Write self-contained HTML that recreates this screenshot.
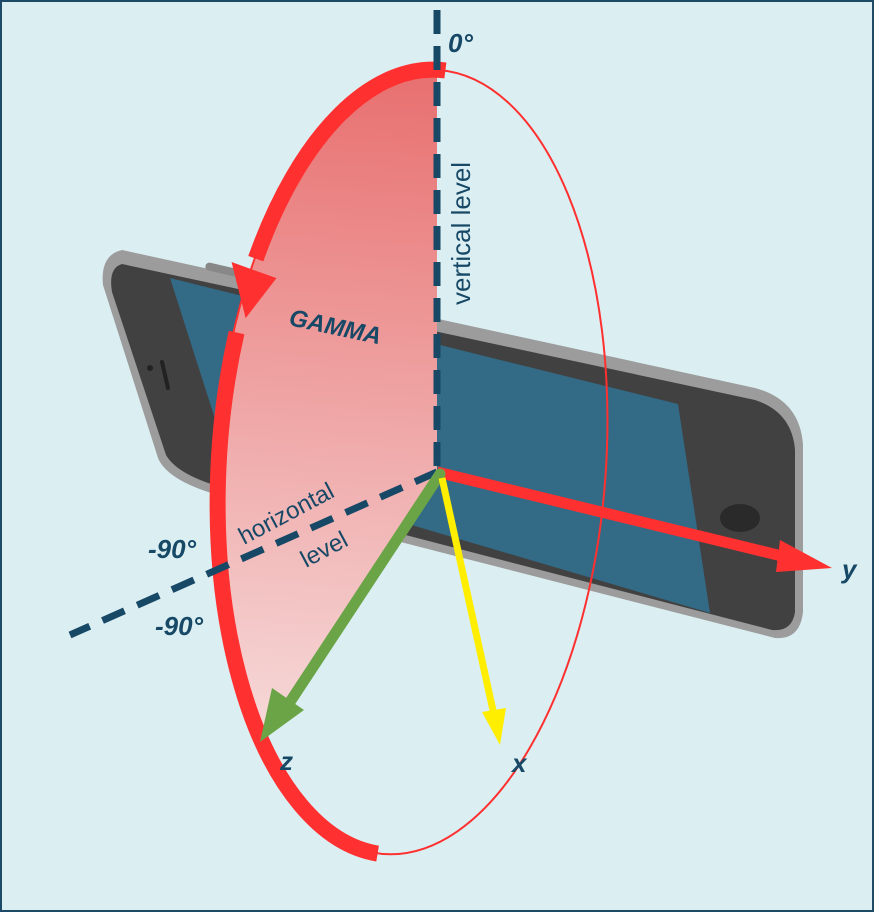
<!DOCTYPE html>
<html><head><meta charset="utf-8"><style>
html,body{margin:0;padding:0;background:#dbeff3;}
svg{display:block;}
text{font-family:"Liberation Sans",sans-serif;}
</style></head><body>
<svg width="874" height="912" viewBox="0 0 874 912">
<defs>
<linearGradient id="pink" x1="0" y1="0" x2="0" y2="1">
<stop offset="0" stop-color="#e86f6f"/><stop offset="0.85" stop-color="#f6d8d8"/><stop offset="1" stop-color="#f8e6e6"/>
</linearGradient>
<clipPath id="sector"><polygon points="0,0 437,0 437,470 262,742 250,912 0,912"/></clipPath>
</defs>
<rect x="1" y="1" width="872" height="910" fill="#dbeff3" stroke="#1d4a66" stroke-width="2"/>
<g>
<path d="M122,250 L755,388 Q800,400 803,445 L803,612 Q800,640 775,638 L225,497 Q168,482 158,458 L103,285 Q100,255 122,250 Z" fill="#9c9c9c"/>
<path d="M122,264 L755,400 Q792,412 795,450 L795,612 Q792,632 772,630 L228,489 Q178,476 166,455 L112,292 Q108,268 122,264 Z" fill="#414141"/>
<polygon points="170,278 678,404 710,613 232,472" fill="#336a86"/>
<ellipse cx="740" cy="518" rx="20" ry="14" fill="#2a2a2a"/>
<rect x="205" y="266" width="38" height="8" rx="4" fill="#888" transform="rotate(13 224 270)"/>
<circle cx="150" cy="368" r="3" fill="#222"/>
<line x1="162" y1="362" x2="168" y2="388" stroke="#222" stroke-width="4" stroke-linecap="round"/>
</g>
<g clip-path="url(#sector)">
<ellipse cx="411" cy="462" rx="195" ry="393" fill="url(#pink)" transform="rotate(4 411 462)"/>
</g>
<g transform="rotate(4 411 462)">
<ellipse cx="411" cy="462" rx="195" ry="393" fill="none" stroke="#ff3030" stroke-width="2"/>
<path d="M418,69 A195,393 0 0 0 242,270" fill="none" stroke="#ff3030" stroke-width="16"/>
<polygon points="218,275 264,288 236,330" fill="#ff3030"/>
<path d="M228,345 A195,393 0 0 0 405,855" fill="none" stroke="#ff3030" stroke-width="16"/>
</g>
<line x1="437" y1="10" x2="437" y2="468" stroke="#174866" stroke-width="7" stroke-dasharray="24,12"/>
<line x1="437" y1="472" x2="70" y2="635" stroke="#174866" stroke-width="7" stroke-dasharray="24,14"/>
<g>
<line x1="437" y1="472" x2="790" y2="558" stroke="#ff3030" stroke-width="11"/>
<polygon points="780,540 832,568 776,572" fill="#ff3030"/>
</g>
<g>
<line x1="440" y1="474" x2="288" y2="705" stroke="#6aa447" stroke-width="11" stroke-linecap="round"/>
<polygon points="272,688 304,710 260,742" fill="#6aa447"/>
</g>
<g>
<line x1="442" y1="478" x2="494" y2="715" stroke="#ffee00" stroke-width="7"/>
<polygon points="482,712 506,708 500,745" fill="#ffee00"/>
</g>
<text x="448" y="52" font-size="26" font-weight="bold" font-style="italic" fill="#174866">0°</text>
<text x="0" y="0" font-size="26" fill="#174866" transform="translate(470,305) rotate(-90)">vertical level</text>
<text x="288" y="325" font-size="24" font-weight="bold" font-style="italic" fill="#174866" transform="rotate(12 288 325)">GAMMA</text>
<text x="0" y="0" font-size="24" fill="#174866" transform="translate(244,545) rotate(-28)">horizontal</text>
<text x="0" y="0" font-size="24" fill="#174866" transform="translate(306,568) rotate(-28)">level</text>
<text x="148" y="558" font-size="26" font-weight="bold" font-style="italic" fill="#174866">-90°</text>
<text x="155" y="635" font-size="26" font-weight="bold" font-style="italic" fill="#174866">-90°</text>
<text x="842" y="578" font-size="26" font-weight="bold" font-style="italic" fill="#174866">y</text>
<text x="280" y="770" font-size="26" font-weight="bold" font-style="italic" fill="#174866">z</text>
<text x="512" y="772" font-size="26" font-weight="bold" font-style="italic" fill="#174866">x</text>
</svg>
</body></html>
